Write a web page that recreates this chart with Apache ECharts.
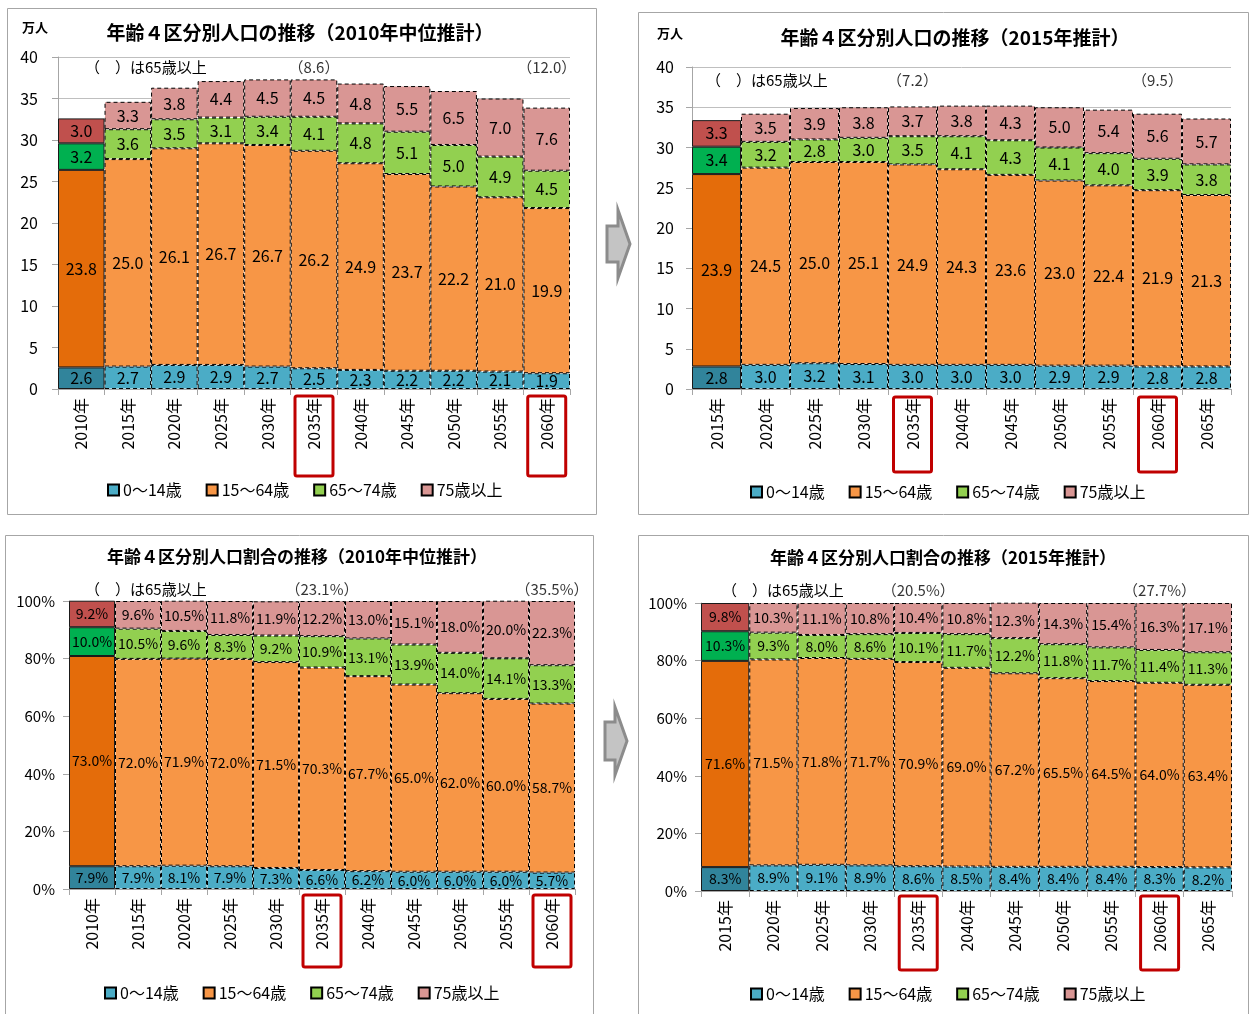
<!DOCTYPE html>
<html><head><meta charset="utf-8">
<script src="https://cdn.jsdelivr.net/npm/echarts@6/dist/echarts.min.js"></script>
<style>html,body{margin:0;padding:0;background:#fff}#c{width:1252px;height:1014px}</style>
</head><body><div id="c"></div>
<script>
// ---- data ----
const catsA = ['2010年','2015年','2020年','2025年','2030年','2035年','2040年','2045年','2050年','2055年','2060年'];
const catsB = ['2015年','2020年','2025年','2030年','2035年','2040年','2045年','2050年','2055年','2060年','2065年'];
const seriesNames = ['0～14歳','15～64歳','65～74歳','75歳以上'];

// chart 1: population (万人), 2010 medium projection
const a_0_14  = [2.6, 2.7, 2.9, 2.9, 2.7, 2.5, 2.3, 2.2, 2.2, 2.1, 1.9];
const a_15_64 = [23.8, 25.0, 26.1, 26.7, 26.7, 26.2, 24.9, 23.7, 22.2, 21.0, 19.9];
const a_65_74 = [3.2, 3.6, 3.5, 3.1, 3.4, 4.1, 4.8, 5.1, 5.0, 4.9, 4.5];
const a_75    = [3.0, 3.3, 3.8, 4.4, 4.5, 4.5, 4.8, 5.5, 6.5, 7.0, 7.6];
const a_note_cats = ['2035年','2060年'];
const a_note_vals = ['8.6','12.0'];

// chart 2: population (万人), 2015 projection
const b_0_14  = [2.8, 3.0, 3.2, 3.1, 3.0, 3.0, 3.0, 2.9, 2.9, 2.8, 2.8];
const b_15_64 = [23.9, 24.5, 25.0, 25.1, 24.9, 24.3, 23.6, 23.0, 22.4, 21.9, 21.3];
const b_65_74 = [3.4, 3.2, 2.8, 3.0, 3.5, 4.1, 4.3, 4.1, 4.0, 3.9, 3.8];
const b_75    = [3.3, 3.5, 3.9, 3.8, 3.7, 3.8, 4.3, 5.0, 5.4, 5.6, 5.7];
const b_note_cats = ['2035年','2060年'];
const b_note_vals = ['7.2','9.5'];

// chart 3: share (%), 2010 medium projection
const c_0_14  = [7.9, 7.9, 8.1, 7.9, 7.3, 6.6, 6.2, 6.0, 6.0, 6.0, 5.7];
const c_15_64 = [73.0, 72.0, 71.9, 72.0, 71.5, 70.3, 67.7, 65.0, 62.0, 60.0, 58.7];
const c_65_74 = [10.0, 10.5, 9.6, 8.3, 9.2, 10.9, 13.1, 13.9, 14.0, 14.1, 13.3];
const c_75    = [9.2, 9.6, 10.5, 11.8, 11.9, 12.2, 13.0, 15.1, 18.0, 20.0, 22.3];
const c_note_cats = ['2035年','2060年'];
const c_note_vals = ['23.1%','35.5%'];

// chart 4: share (%), 2015 projection
const d_0_14  = [8.3, 8.9, 9.1, 8.9, 8.6, 8.5, 8.4, 8.4, 8.4, 8.3, 8.2];
const d_15_64 = [71.6, 71.5, 71.8, 71.7, 70.9, 69.0, 67.2, 65.5, 64.5, 64.0, 63.4];
const d_65_74 = [10.3, 9.3, 8.0, 8.6, 10.1, 11.7, 12.2, 11.8, 11.7, 11.4, 11.3];
const d_75    = [9.8, 10.3, 11.1, 10.8, 10.4, 10.8, 12.3, 14.3, 15.4, 16.3, 17.1];
const d_note_cats = ['2035年','2060年'];
const d_note_vals = ['20.5%','27.7%'];

const yTicksPop = [0, 40, 5];   // min, max, interval
const yTicksPct = [0, 100, 20];

// ---- styles ----
const FONT = 'Noto Sans CJK JP';
const lightCols = ['#4BACC6','#F79646','#92D050','#D99694'];
const darkCols  = ['#31849B','#E46C0A','#00B050','#C0504D'];

const charts = [
  {cats: catsA, data: [a_0_14,a_15_64,a_65_74,a_75], notesC: a_note_cats, notesV: a_note_vals, pct:false,
   grid:{left:58, top:57, width:512, height:332}, lblMargin:20, lblFont:16, valFont:16, noteOff:10,
   title:'年齢４区分別人口の推移（2010年中位推計）', tx:300, ty:33, tfs:19,
   unit:{x:35,y:27}, paren:{x:85,y:67}, legend:{left:102, top:477}, box:{x:7.5,y:8.5,w:589,h:506}, redY:396, redH:80},
  {cats: catsB, data: [b_0_14,b_15_64,b_65_74,b_75], notesC: b_note_cats, notesV: b_note_vals, pct:false,
   grid:{left:692, top:67, width:539, height:322}, lblMargin:18, lblFont:16, valFont:16, noteOff:13,
   title:'年齢４区分別人口の推移（2015年推計）', tx:955, ty:38, tfs:19,
   unit:{x:670,y:33}, paren:{x:706,y:80}, legend:{left:745, top:479}, box:{x:638.5,y:12.5,w:610,h:502}, redY:397, redH:75},
  {cats: catsA, data: [c_0_14,c_15_64,c_65_74,c_75], notesC: c_note_cats, notesV: c_note_vals, pct:true,
   grid:{left:69, top:601, width:506, height:288}, lblMargin:14, lblFont:15, valFont:14, noteOff:-12,
   title:'年齢４区分別人口割合の推移（2010年中位推計）', tx:297, ty:557, tfs:17,
   unit:null, paren:{x:85,y:589}, legend:{left:99, top:980}, box:{x:5.5,y:535.5,w:588,h:490}, redY:895, redH:72},
  {cats: catsB, data: [d_0_14,d_15_64,d_65_74,d_75], notesC: d_note_cats, notesV: d_note_vals, pct:true,
   grid:{left:701, top:603, width:531, height:288}, lblMargin:14, lblFont:15, valFont:14, noteOff:-13,
   title:'年齢４区分別人口割合の推移（2015年推計）', tx:943, ty:558, tfs:17,
   unit:null, paren:{x:722,y:590}, legend:{left:745, top:981}, box:{x:638.5,y:535.5,w:610,h:490}, redY:896, redH:74}
];

const grid = [], xAxis = [], yAxis = [], series = [], legend = [];
charts.forEach((ch, ci) => {
  grid.push(Object.assign({containLabel:false}, ch.grid));
  xAxis.push({
    type:'category', gridIndex:ci, data:ch.cats, boundaryGap:true,
    axisLine:{show:true, lineStyle:{color:'#A6A6A6', width:1}},
    axisTick:{show:true, length:6, lineStyle:{color:'#A6A6A6'}},
    axisLabel:{rotate:90, margin:9, color:'#000', fontSize:16, fontFamily:FONT, interval:0}
  });
  const t = ch.pct ? yTicksPct : yTicksPop;
  yAxis.push({
    type:'value', gridIndex:ci, min:t[0], max:t[1], interval:t[2],
    axisLine:{show:true, lineStyle:{color:'#A6A6A6', width:1}},
    axisTick:{show:true, length:6, lineStyle:{color:'#A6A6A6'}},
    splitLine:{show:true, lineStyle:{color:'#BFBFBF', width:1}},
    axisLabel:{margin:ch.lblMargin, color:'#000', fontSize:ch.lblFont, fontFamily:FONT,
      formatter: v => ch.pct ? v + '%' : String(v)}
  });
  ch.data.forEach((vals, si) => {
    series.push({
      type:'bar', name:seriesNames[si], xAxisIndex:ci, yAxisIndex:ci, stack:'s'+ci,
      barCategoryGap:'0%',
      itemStyle:{color:lightCols[si], borderColor:'#000', borderWidth:1, borderType:[4,3]},
      label:{show:true, position:'inside', color:'#000', fontSize:ch.valFont, fontFamily:FONT,
        formatter: p => p.value.toFixed(1) + (ch.pct ? '%' : '')},
      data: vals.map((v, i) => i === 0
        ? {value:v, itemStyle:{color:darkCols[si], borderColor:'#1a1a1a', borderType:'solid', borderWidth:1}}
        : v)
    });
  });
  series.push({
    type:'scatter', xAxisIndex:ci, yAxisIndex:ci, symbolSize:0, clip:false, silent:true, z:10,
    itemStyle:{color:'transparent'},
    label:{show:true, position:'inside', offset:[0, ch.noteOff], color:'#000', fontSize:15, fontFamily:FONT,
      formatter: p => '（' + ch.notesV[p.dataIndex] + '）'},
    data: ch.notesC.map(c => [c, ch.pct ? yTicksPct[1] : yTicksPop[1]])
  });
  legend.push({
    left:ch.legend.left, top:ch.legend.top, data:seriesNames, itemWidth:11, itemHeight:11, itemGap:24,
    selectedMode:false, icon:'rect',
    textStyle:{fontSize:16, fontFamily:FONT, color:'#000', padding:[0,0,0,-1]}
  });
});

const el = document.getElementById('c');
const chart = echarts.init(el, null, {renderer:'canvas', width:1252, height:1014});
chart.setOption({animation:false, backgroundColor:'#fff', grid, xAxis, yAxis, series, legend});

// ---- decorations ----
const g = [];
charts.forEach((ch, ci) => {
  g.push({type:'rect', shape:{x:ch.box.x, y:ch.box.y, width:ch.box.w, height:ch.box.h},
    style:{fill:'none', stroke:'#A6A6A6', lineWidth:1}, z:-1});
  g.push({type:'text', x:ch.tx, y:ch.ty, style:{text:ch.title, fontSize:ch.tfs, fontWeight:'bold', fontFamily:FONT,
    fill:'#000', textAlign:'center', textVerticalAlign:'middle'}});
  if (ch.unit) g.push({type:'text', x:ch.unit.x, y:ch.unit.y, style:{text:'万人', fontSize:13, fontWeight:'bold',
    fontFamily:FONT, fill:'#000', textAlign:'center', textVerticalAlign:'middle'}});
  g.push({type:'text', x:ch.paren.x, y:ch.paren.y, style:{text:'（　）は65歳以上', fontSize:15, fontFamily:FONT,
    fill:'#000', textAlign:'left', textVerticalAlign:'middle'}, z:20});
  ch.notesC.forEach(c => {
    const px = chart.convertToPixel({xAxisIndex:ci}, c);
    g.push({type:'rect', shape:{x:px-19, y:ch.redY, width:38, height:ch.redH, r:2},
      style:{fill:'none', stroke:'#C00000', lineWidth:3}, z:20});
  });
});
// arrows
function arrow(x0, shT, shB, hx, hT, hB, tip, ty) {
  return {type:'polygon', shape:{points:[[x0,shT],[hx,shT],[hx,hT],[tip,ty],[hx,hB],[hx,shB],[x0,shB]]},
    style:{fill:'#C4C4C4', stroke:'#8C8C8C', lineWidth:3}};
}
g.push(arrow(607, 226, 262, 618, 210, 278, 630, 244));
g.push(arrow(605, 722, 760, 615, 707, 775, 627, 741));
chart.setOption({graphic:g});
</script></body></html>
